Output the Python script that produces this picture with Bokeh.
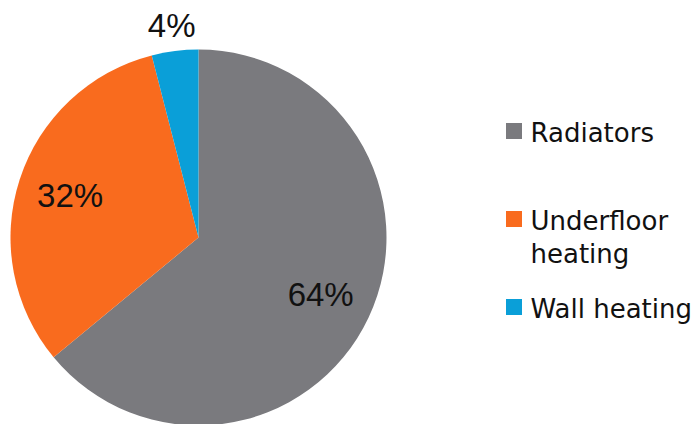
import math
from bokeh.plotting import figure
from bokeh.models import Range1d, ColumnDataSource
from bokeh.core.properties import value
from bokeh.embed import file_html
from bokeh.resources import INLINE

categories = ["Radiators", "Underfloor\nheating", "Wall heating"]
shares = [64, 32, 4]
labels = ["64%", "32%", "4%"]
colors = ["#7a7a7e", "#f96b1e", "#0a9fd8"]

W, H = 698, 424
p = figure(width=W, height=H, output_backend="svg", toolbar_location=None,
           x_range=Range1d(0, W), y_range=Range1d(0, H), min_border=0)
p.axis.visible = False
p.grid.visible = False
p.outline_line_color = None
p.background_fill_color = "white"

cx, cy, R = 198, 187, 188
total = sum(shares)
starts, ends, lx, ly = [], [], [], []
cum = 0.0
for s in shares:
    a0 = math.pi / 2 - 2 * math.pi * cum / total
    cum += s
    a1 = math.pi / 2 - 2 * math.pi * cum / total
    starts.append(a0)
    ends.append(a1)
    mid = (a0 + a1) / 2
    lr = 135 if s / total > 0.1 else 214
    lx.append(cx + lr * math.cos(mid))
    ly.append(cy + lr * math.sin(mid))

src = ColumnDataSource(dict(start=starts, end=ends, color=colors,
                            lx=lx, ly=ly, label=labels))
p.wedge(x=cx, y=cy, radius=R, radius_units="screen", start_angle="start",
        end_angle="end", direction="clock", fill_color="color",
        line_color=None, source=src)
p.text(x="lx", y="ly", text="label", source=src, text_align="center",
       text_baseline="middle", text_font=value("Liberation Sans"),
       text_font_size="33px", text_color="#111111")

# legend
n = len(categories)
sq_x = [513.5] * n
sq_y = [293.5 - 88 * i for i in range(n)]
txt_y = [y + 13 for y in sq_y]
lsrc = ColumnDataSource(dict(x=sq_x, y=sq_y, ty=txt_y, color=colors,
                             label=categories, tx=[530] * n))
p.rect(x="x", y="y", width=16, height=16, width_units="screen",
       height_units="screen", fill_color="color", line_color=None, source=lsrc)
p.text(x="tx", y="ty", text="label", source=lsrc, text_align="left",
       text_baseline="top", text_font=value("DejaVu Sans"),
       text_font_size="26px", text_line_height=1.1, text_color="#111111")

open("out.html", "w").write(file_html(p, INLINE))
